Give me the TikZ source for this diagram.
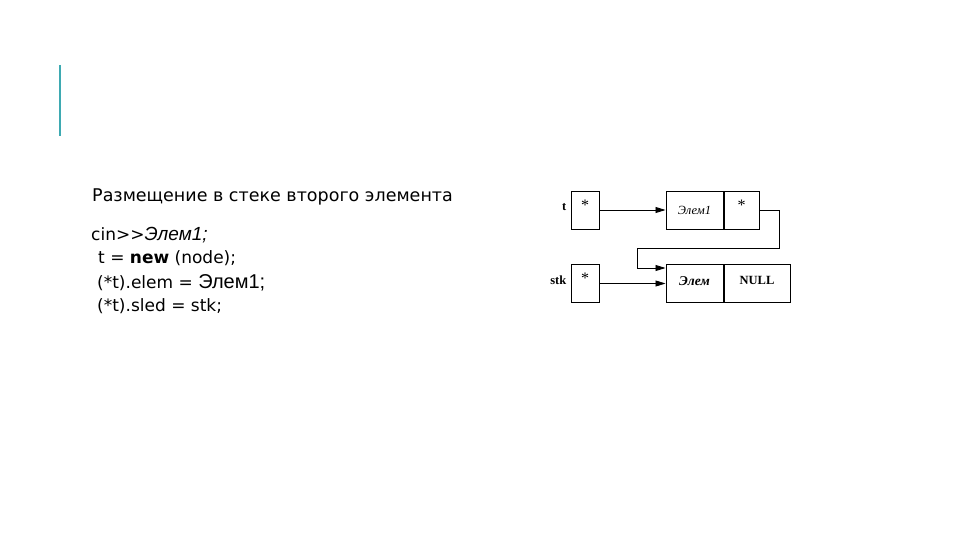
\documentclass[tikz,border=0pt]{standalone}
\usepackage{fontspec}
\setmainfont{Liberation Serif}
\newfontfamily\slidefont{DejaVu Sans}
\newfontfamily\arialfont{Liberation Sans}
\usetikzlibrary{arrows.meta, positioning, calc}

\definecolor{barcyan}{RGB}{62,170,178}

\begin{document}
\begin{tikzpicture}[
    x=1pt, y=-1pt,
    >={Triangle[length=10pt, width=6pt]}, % Set default arrow tip style
    cell/.style={draw, line width=1pt, minimum height=38pt, inner sep=0pt}, % Style for boxes
    star/.style={font=\fontsize{16}{16}\selectfont, anchor=north, yshift=-9pt, inner sep=0pt},
    varname/.style={font=\bfseries\fontsize{12.5}{14}\selectfont, inner sep=1pt},
    slide/.style={font=\slidefont\fontsize{17.5}{20}\selectfont, anchor=base west, inner sep=0pt},
    code/.style={font=\slidefont\fontsize{17}{20}\selectfont, anchor=base west, inner sep=0pt}
]
\useasboundingbox (0,0) rectangle (960,540);

% Accent bar
\draw[line width=2.5pt, barcyan] (60,65) -- (60,136);

% Caption and code lines
\node[slide] (caption) at (92,201) {Размещение в стеке второго элемента};
\node[code] (cin)  at (91,240) {cin>>{\arialfont\itshape\fontsize{19}{20}\selectfont Элем1;}};
\node[code] (tnew) at (98,263) {t = \textbf{new} (node);};
\node[code] (elem) at (97,288) {(*t).elem = {\arialfont\fontsize{20}{20}\selectfont Элем1;}};
\node[code] (sled) at (97,311) {(*t).sled = stk;};

% Pointer boxes
\node[cell, minimum width=28pt, label={[star]north:*}] (tptr) at (585,210) {};
\node[cell, minimum width=28pt, label={[star]north:*}] (stkptr) at (585,283.5) {};
\node[varname, left=3pt of tptr, yshift=3pt] (tlab) {t};
\node[varname, left=3pt of stkptr, yshift=3pt] (stklab) {stk};

% New element
\node[cell, minimum width=57pt,
    label={[star, yshift=-7pt, font=\itshape\fontsize{12.5}{12.5}\selectfont]north:Элем1}] (e1val) at (694.5,210) {};
\node[cell, minimum width=35pt, right=0pt of e1val, label={[star]north:*}] (e1next) {};

% Old element
\node[cell, minimum width=57pt,
    label={[star, yshift=-3pt, font=\bfseries\itshape\fontsize{13.5}{13.5}\selectfont]north:Элем}] (e0val) at (694.5,283.5) {};
\node[cell, minimum width=66pt, right=0pt of e0val,
    label={[star, yshift=-3pt, font=\bfseries\fontsize{12.5}{12.5}\selectfont]north:NULL}] (e0next) {};

% Links
\coordinate (bend) at (637,248);
\coordinate (e0in) at ($(e0val.north west)+(0,4)$);
\draw[->, line width=0.8pt] (tptr) -- (e1val);
\draw[->, line width=0.8pt] (stkptr) -- (e0val);
\draw[->, line width=0.8pt] (e1next.east) -- ++(20,0) |- (bend) |- (e0in);

\end{tikzpicture}
\end{document}
